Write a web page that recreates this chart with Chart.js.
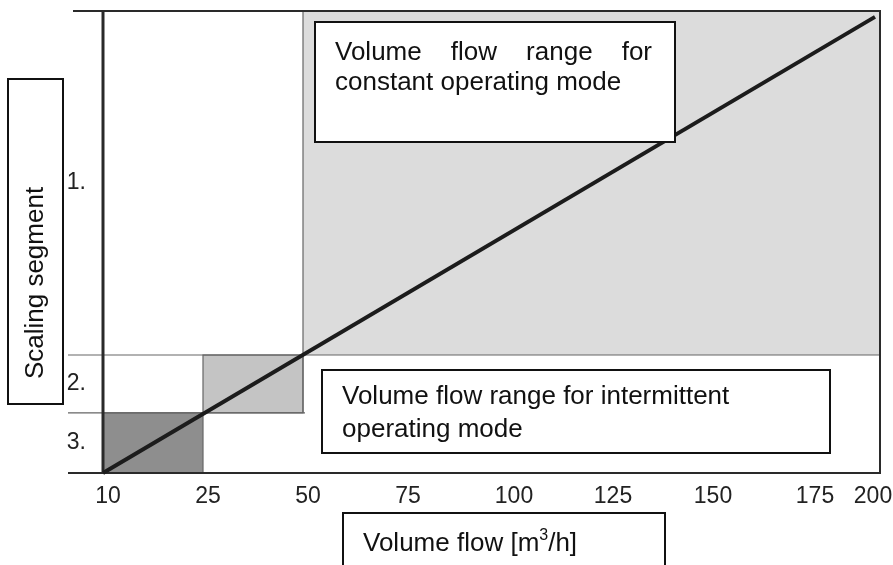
<!DOCTYPE html>
<html>
<head>
<meta charset="utf-8">
<script src="https://cdn.jsdelivr.net/npm/chart.js@4.4.1/dist/chart.umd.min.js"></script>
<style>
  html, body { margin: 0; padding: 0; background: #fff; }
</style>
</head>
<body>
<canvas id="flowChart" width="893" height="565"></canvas>
<script>
// flow axis: labels are spaced evenly on the drawing, except the last two
const flowTicks = [10, 25, 50, 75, 100, 125, 150, 175, 200];
const flowTickPos = [0, 1, 2, 3, 4.06, 5.05, 6.05, 7.07, 7.65];
const flowMax = 7.77;

// scaling segments, bottom to top
const segmentLabels = ["3.", "2.", "1."];
const segmentEdges = [0, 1.02, 2, 7.83];

// characteristic line (axis positions)
const lineX = [0, 7.72];
const lineY = [0, 7.73];

// shaded ranges, one per segment
const rangeFrom = [0, 1, 2];
const rangeTo = [1, 2, 7.77];
const rangeColors = ["#8e8e8e", "#c4c4c4", "#dcdcdc"];

const FONT = "'Liberation Sans', Arial, sans-serif";

// ===============================
// shaded ranges + frame lines
// ===============================
const schematic = {
    id: "schematic",
    beforeDatasetsDraw(chart) {
        const { ctx, chartArea: a, scales: { x, y } } = chart;
        ctx.save();

        rangeFrom.forEach((from, i) => {
            const x0 = x.getPixelForValue(from);
            const x1 = x.getPixelForValue(rangeTo[i]);
            const y0 = y.getPixelForValue(segmentEdges[i]);
            const y1 = y.getPixelForValue(segmentEdges[i + 1]);
            ctx.fillStyle = rangeColors[i];
            ctx.fillRect(x0, y1, x1 - x0, y0 - y1);
            if (i < 2) {
                ctx.strokeStyle = "#666";
                ctx.lineWidth = 1.2;
                ctx.strokeRect(x0, y1, x1 - x0, y0 - y1);
            }
        });

        const yLow = y.getPixelForValue(segmentEdges[1]);
        const yMid = y.getPixelForValue(segmentEdges[2]);
        const x50 = x.getPixelForValue(rangeFrom[2]);

        ctx.strokeStyle = "#666";
        ctx.lineWidth = 1.2;
        ctx.beginPath();
        ctx.moveTo(68, yMid); ctx.lineTo(a.right, yMid);
        ctx.moveTo(68, yLow); ctx.lineTo(x50 + 2, yLow);
        ctx.moveTo(x50, a.top); ctx.lineTo(x50, yLow);
        ctx.stroke();

        // frame
        ctx.strokeStyle = "#2a2a2a";
        ctx.lineWidth = 2;
        ctx.beginPath();
        ctx.moveTo(73, a.top); ctx.lineTo(a.right, a.top);
        ctx.lineTo(a.right, a.bottom);
        ctx.lineTo(68, a.bottom);
        ctx.stroke();
        ctx.lineWidth = 3;
        ctx.beginPath();
        ctx.moveTo(a.left, a.top); ctx.lineTo(a.left, a.bottom);
        ctx.stroke();

        ctx.restore();
    },
    afterDraw(chart) {
        const { ctx } = chart;
        ctx.save();
        ctx.fillStyle = "#111";
        ctx.textBaseline = "alphabetic";
        ctx.font = "26px " + FONT;

        // constant mode box
        box(ctx, 315, 22, 360, 120);
        ctx.fillStyle = "#111";
        justify(ctx, ["Volume", "flow", "range", "for"], 335, 652, 60);
        ctx.fillText("constant operating mode", 335, 90);

        // intermittent mode box
        box(ctx, 322, 370, 508, 83);
        ctx.fillStyle = "#111";
        ctx.fillText("Volume flow range for intermittent", 342, 404);
        ctx.fillText("operating mode", 342, 437);

        // x title
        box(ctx, 343, 513, 322, 60);
        ctx.fillStyle = "#111";
        ctx.fillText("Volume flow [m", 363, 551);
        let w = ctx.measureText("Volume flow [m").width;
        ctx.font = "16px " + FONT;
        ctx.fillText("3", 363 + w, 540);
        w += ctx.measureText("3").width;
        ctx.font = "26px " + FONT;
        ctx.fillText("/h]", 363 + w, 551);

        // y title
        box(ctx, 8, 79, 55, 325);
        ctx.fillStyle = "#111";
        ctx.translate(36, 283);
        ctx.rotate(-Math.PI / 2);
        ctx.textAlign = "center";
        ctx.textBaseline = "middle";
        ctx.fillText("Scaling segment", 0, 0);

        ctx.restore();
    }
};

function box(ctx, x, y, w, h) {
    ctx.fillStyle = "#fff";
    ctx.fillRect(x, y, w, h);
    ctx.strokeStyle = "#111";
    ctx.lineWidth = 2;
    ctx.strokeRect(x, y, w, h);
}

function justify(ctx, words, left, right, base) {
    const widths = words.map(t => ctx.measureText(t).width);
    const total = widths.reduce((s, v) => s + v, 0);
    const gap = (right - left - total) / (words.length - 1);
    let cx = left;
    words.forEach((t, i) => {
        ctx.fillText(t, cx, base);
        cx += widths[i] + gap;
    });
}

// ===============================
// chart
// ===============================
new Chart(document.getElementById("flowChart"), {
    type: "scatter",
    data: {
        datasets: [{
            data: lineX.map((v, i) => ({ x: v, y: lineY[i] })),
            showLine: true,
            borderColor: "#1c1c1c",
            borderWidth: 4,
            pointRadius: 0,
            clip: false
        }]
    },
    options: {
        responsive: false,
        animation: false,
        events: [],
        layout: { padding: { top: 11, right: 13, left: 0, bottom: 0 } },
        plugins: { legend: { display: false }, tooltip: { enabled: false } },
        scales: {
            x: {
                type: "linear",
                min: 0,
                max: flowMax,
                grid: { display: false, drawTicks: false },
                border: { display: false },
                afterFit: s => {
                    s.height = 92;
                    s.paddingLeft = 0;
                    s.paddingRight = 0;
                },
                afterBuildTicks: s => { s.ticks = flowTickPos.map(v => ({ value: v })); },
                ticks: {
                    color: "#222",
                    font: { family: FONT, size: 23 },
                    padding: 10,
                    labelOffset: 5,
                    maxRotation: 0,
                    autoSkip: false,
                    callback: (v, i) => flowTicks[i]
                }
            },
            y: {
                type: "linear",
                min: 0,
                max: segmentEdges[3],
                grid: { display: false, drawTicks: false },
                border: { display: false },
                afterFit: s => {
                    s.width = 103;
                    s.paddingTop = 0;
                    s.paddingBottom = 0;
                },
                afterBuildTicks: s => {
                    s.ticks = segmentLabels.map((t, i) => ({ value: (segmentEdges[i] + segmentEdges[i + 1]) / 2 }));
                },
                ticks: {
                    color: "#222",
                    font: { family: FONT, size: 23 },
                    padding: 17,
                    autoSkip: false,
                    callback: (v, i) => segmentLabels[i]
                }
            }
        }
    },
    plugins: [schematic]
});
</script>
</body>
</html>
